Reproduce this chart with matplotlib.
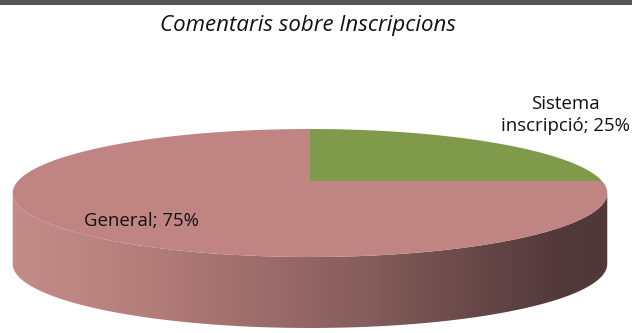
import numpy as np
import matplotlib.pyplot as plt
from matplotlib.patches import Polygon

# pie data
labels = ['Sistema\ninscripció', 'General']
values = [25, 75]
colors = ['#7f9a4a', '#c08482']
title = 'Comentaris sobre Inscripcions'

W, H = 632, 333
fig = plt.figure(figsize=(W / 100, H / 100), dpi=100)
ax = fig.add_axes([0, 0, 1, 1])
ax.set_xlim(0, W)
ax.set_ylim(H, 0)
ax.axis('off')

# dark strip along the top edge
ax.add_patch(plt.Rectangle((0, 0), W, 4.5, color='#575757', lw=0))

# perspective ellipse: x/y in pixels, t=90 is the back of the pie
cx, A = 310, 292
ya, yb, pc = 181.0, -27.8, 0.1875
depth = 71


def proj(t):
    s = np.sin(t)
    w = 1 + pc * s
    return cx + A * np.cos(t) / w, (ya + yb * s) / w


# side wall (front half, between the two silhouette points)
tl = np.pi + np.arcsin(pc)
tr = 2 * np.pi - np.arcsin(pc)
tt = np.linspace(tl, tr, 300)
sx, sy = proj(tt)
side_pts = np.column_stack([np.r_[sx, sx[::-1]], np.r_[sy, sy[::-1] + depth]])
side = Polygon(side_pts, closed=True, fc='none', ec='none')
ax.add_patch(side)

# horizontal shading of the wall
stops_x = [10, 60, 150, 250, 370, 480, 560, 600, 612]
stops_c = np.array([
    (196, 140, 137), (192, 136, 133), (180, 125, 122), (158, 110, 109),
    (132, 93, 92), (102, 71, 71), (82, 57, 58), (80, 56, 57), (86, 61, 61),
]) / 255.0
gx = np.arange(0, W)
grad = np.stack([np.interp(gx, stops_x, stops_c[:, k]) for k in range(3)], axis=-1)
im = ax.imshow(grad[np.newaxis, :, :], extent=[0, W, 340, 170], aspect='auto',
               interpolation='bilinear', zorder=2)
im.set_clip_path(side)

# top face wedges, clockwise from the back
fracs = np.array(values) / np.sum(values)
start = np.pi / 2
for frac, col in zip(fracs, colors):
    end = start - 2 * np.pi * frac
    t = np.linspace(start, end, 400)
    px, py = proj(t)
    pts = np.column_stack([np.r_[cx, px], np.r_[ya, py]])
    ax.add_patch(Polygon(pts, closed=True, fc=col, ec='none', zorder=3))
    start = end

# labels
font = 'Open Sans'
label_pos = {'Sistema\ninscripció': (565, [108.7, 131.3]),
             'General': (141, [226])}
for name, v in zip(labels, values):
    x0, bases = label_pos[name]
    lines = f'{name}; {v}%'.split('\n')
    for line, yb_ in zip(lines, bases):
        ax.text(x0, yb_, line, ha='center', va='baseline', fontsize=13.4,
                family=font, color='#111111', zorder=5)

ax.text(308, 30.5, title, ha='center', va='baseline', fontsize=16,
        family=font, style='italic', color='#111111')

fig.savefig('out.png', dpi=100)
